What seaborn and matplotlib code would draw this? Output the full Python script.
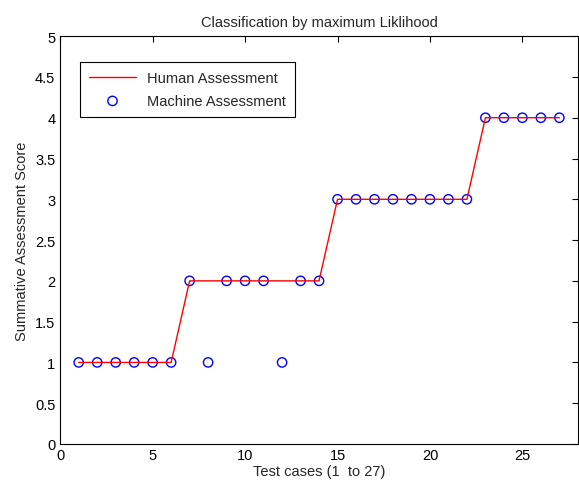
import matplotlib
matplotlib.use("Agg")
import matplotlib.pyplot as plt
import seaborn as sns
import numpy as np
import pandas as pd

cases = list(range(1, 28))
human = [1]*6 + [2]*8 + [3]*8 + [4]*5
machine = [1, 1, 1, 1, 1, 1, 2, 1, 2, 2, 2, 1, 2, 2, 3, 3, 3, 3, 3, 3, 3, 3, 4, 4, 4, 4, 4]

sns.set_style("white")
plt.rcParams['font.family'] = ['Liberation Sans', 'DejaVu Sans']

df = pd.DataFrame({"case": cases, "human": human, "machine": machine})

fig = plt.figure(figsize=(5.79, 4.89), dpi=100)
ax = fig.add_axes([0.104, 0.09, 0.894, 0.834])
sns.lineplot(data=df, x="case", y="human", color="red", lw=1, ax=ax, label="Human Assessment")
sns.scatterplot(data=df, x="case", y="machine", marker="o", s=45, facecolors="none",
                edgecolor="blue", linewidth=1, ax=ax, label="Machine Assessment")
ax.set_xlim(0, 28)
ax.set_ylim(0, 5)
ax.set_xticks([0, 5, 10, 15, 20, 25])
ax.set_yticks(np.arange(0, 5.01, 0.5))
ax.set_yticklabels(["0", "0.5", "1", "1.5", "2", "2.5", "3", "3.5", "4", "4.5", "5"])
ax.tick_params(direction="in", top=True, right=True, length=4, width=0.8, labelsize=10.5, colors="black")
ax.tick_params(axis="x", pad=3)
for s in ax.spines.values():
    s.set_color("black")
    s.set_linewidth(0.8)
ax.set_xlabel("Test cases (1  to 27)", fontsize=10.5, labelpad=1)
ax.set_ylabel("Summative Assessment Score", fontsize=10.5, labelpad=4)
ax.set_title("Classification by maximum Liklihood", fontsize=10.5, pad=7)
leg = ax.legend(loc="upper left", bbox_to_anchor=(0.039, 0.936), fancybox=False, framealpha=1,
                edgecolor="black", fontsize=10.5, borderaxespad=0, handlelength=3.2,
                borderpad=0.6, labelspacing=0.6)
leg.get_frame().set_linewidth(0.8)
fig.savefig("out.png", dpi=100)
